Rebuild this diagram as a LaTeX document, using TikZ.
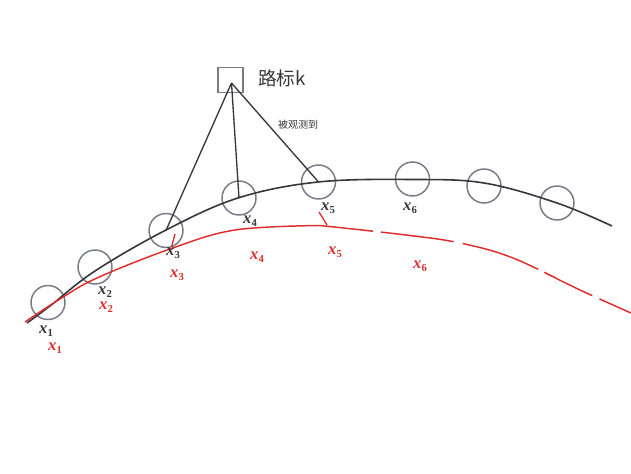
\documentclass[tikz,border=0pt]{standalone}
\usepackage{fontspec}
\setmainfont{Liberation Serif}
\newfontfamily\cjk{Noto Sans CJK SC}
\definecolor{trajred}{RGB}{222,45,45}
\definecolor{trajblk}{RGB}{55,55,60}
\definecolor{circgray}{RGB}{120,122,135}
\tikzset{
  pose/.style={circle,draw=circgray,line width=1.1pt,minimum size=25.5pt,inner sep=0pt},
  obsline/.style={draw=trajblk,line width=1pt},
  blklab/.style={text=trajblk,font=\fontsize{12.5}{12.5}\selectfont,inner sep=0pt},
  redlab/.style={text=trajred,font=\fontsize{12.5}{12.5}\selectfont,inner sep=0pt},
}
\newcommand{\xl}[1]{\textbf{\textit{x}}\raisebox{-0.35ex}{\fontsize{8}{8}\selectfont\textbf{#1}}}
\begin{document}
\begin{tikzpicture}[x=0.75pt,y=-0.75pt]
\useasboundingbox (0,0) rectangle (631,474);
% landmark
\node[draw=circgray,line width=1.1pt,minimum size=18.5pt,inner sep=0pt] (lm) at (230.5,80) {};
\coordinate (apex) at (231.5,83);
\node[anchor=west,inner sep=0pt,font=\cjk\fontsize{14}{14}\selectfont,text=trajblk] (lmlab) at (258,78) {路标k};
\node[inner sep=0pt,font=\cjk\fontsize{7.5}{7.5}\selectfont,text=trajblk] (obs) at (298,125) {被观测到};
% poses
\node[pose] (p1) at (48,302.5) {};
\node[pose] (p2) at (95,267) {};
\node[pose] (p3) at (166,230.5) {};
\node[pose] (p4) at (239,198) {};
\node[pose] (p5) at (318.5,182) {};
\node[pose] (p6) at (412.5,179) {};
\node[pose] (p7) at (484,186) {};
\node[pose] (p8) at (557,203) {};
% true trajectory
\coordinate (b0) at (27,323);
\coordinate (b1) at (50,306);
\coordinate (b2) at (95,271);
\coordinate (b3) at (166,230);
\coordinate (b4) at (238,198);
\coordinate (b5) at (318,182);
\coordinate (b6) at (412,179.5);
\coordinate (b7) at (484,183);
\coordinate (b8) at (557,203);
\coordinate (b9) at (612,226);
\draw[trajblk,line width=1.2pt] plot[smooth,tension=0.6] coordinates {(b0) (b1) (b2) (b3) (b4) (b5) (b6) (b7) (b8) (b9)};
% observation lines
\draw[obsline] (apex) -- (p3.center);
\draw[obsline] (apex) -- (p4.center);
\draw[obsline] (apex) -- (p5.center);
% estimated trajectory
\coordinate (r0) at (25,322);
\coordinate (r1) at (60,299);
\coordinate (r2) at (97,278);
\coordinate (r3) at (170,249);
\coordinate (r4) at (235,230);
\coordinate (r5) at (320,225.5);
\coordinate (r6) at (406,235);
\coordinate (r7) at (460,243);
\coordinate (r8) at (513,258);
\coordinate (r9) at (580,290);
\coordinate (r10) at (631,313);
\draw[trajred,line width=1.1pt] plot[smooth,tension=0.6] coordinates {(r0) (r1) (r2) (r3) (r4) (r5)};
\draw[trajred,line width=1.1pt,dash pattern=on 40pt off 6pt on 55pt off 7pt on 60pt off 5pt] plot[smooth,tension=0.6] coordinates {(r5) (r6) (r7) (r8) (r9) (r10)};
\coordinate (t3a) at (175,234);
\coordinate (t3b) at (171.5,247);
\draw[trajred,line width=1pt] (t3a) -- (t3b);
\coordinate (t5a) at (319,212);
\coordinate (t5b) at (327,225);
\draw[trajred,line width=1pt] (t5a) -- (t5b);
% labels
\node[redlab] (e1) at (55,348) {\xl{1}};
\node[blklab] (l1) at (46,331) {\xl{1}};
\node[blklab] (l2) at (105,292) {\xl{2}};
\node[redlab] (e2) at (106,307) {\xl{2}};
\node[blklab] (l3) at (173,253) {\xl{3}};
\node[redlab] (e3) at (177,275) {\xl{3}};
\node[blklab] (l4) at (250,221) {\xl{4}};
\node[redlab] (e4) at (257,257) {\xl{4}};
\node[blklab] (l5) at (328,208) {\xl{5}};
\node[redlab] (e5) at (335,252) {\xl{5}};
\node[blklab] (l6) at (410,208) {\xl{6}};
\node[redlab] (e6) at (420,266) {\xl{6}};
\end{tikzpicture}
\end{document}
